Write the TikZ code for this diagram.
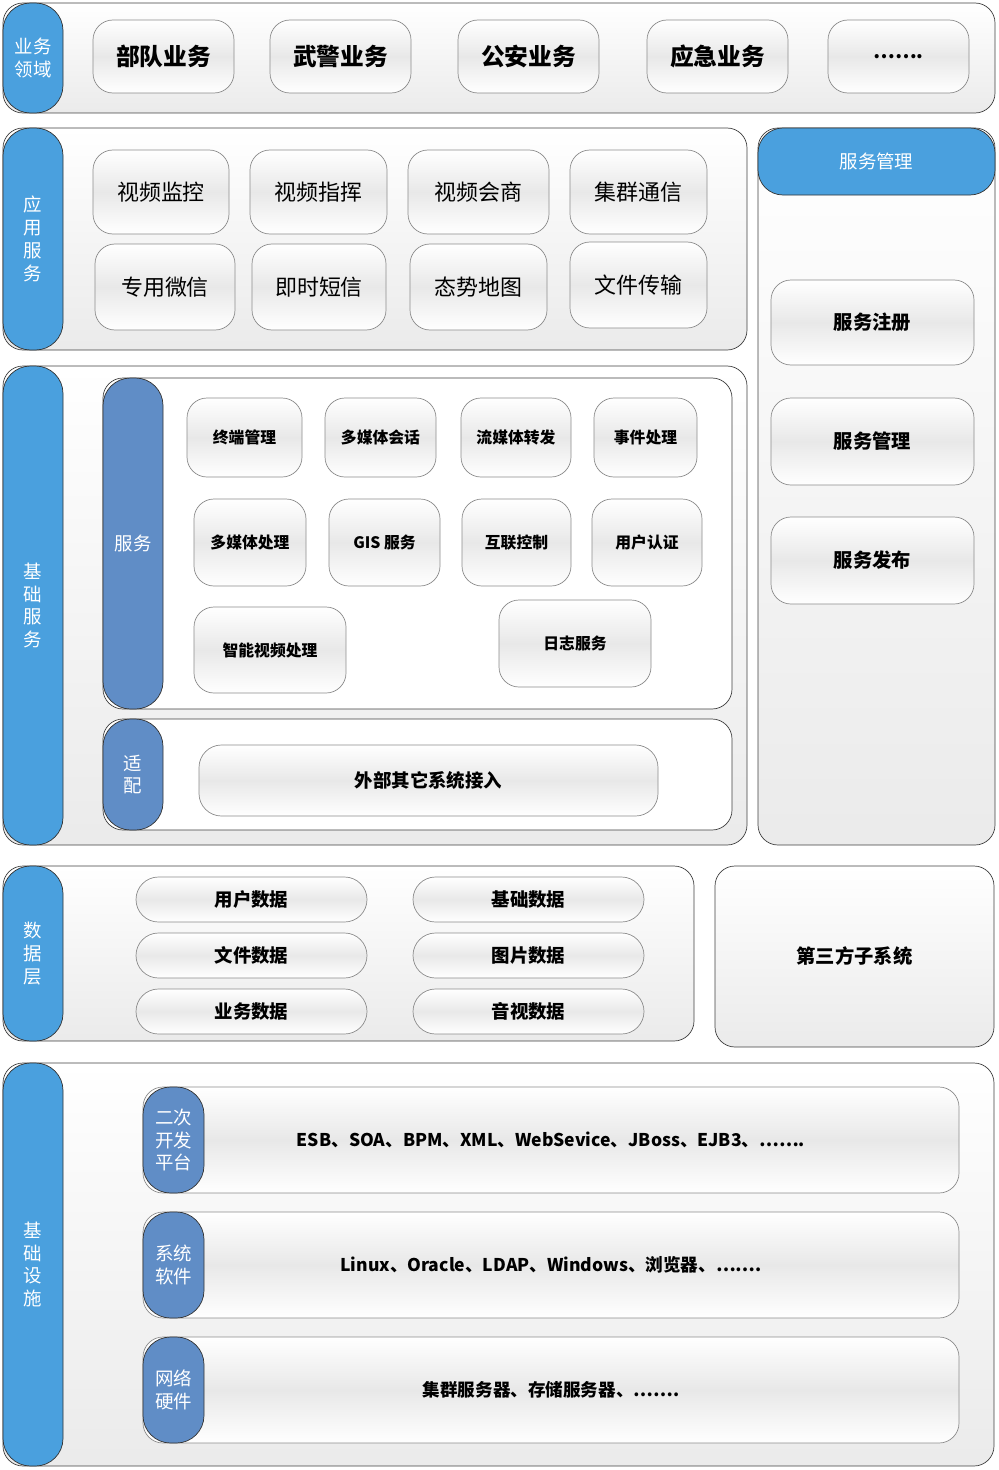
\documentclass[tikz,border=0pt]{standalone}
\usepackage{fontspec}
\setmainfont{Noto Sans CJK SC}
\usetikzlibrary{calc}
\definecolor{sideblue}{RGB}{74,160,222}
\definecolor{barblue}{RGB}{96,141,198}
\tikzset{
  panel/.style={draw=black!75, rounded corners=0.4cm, top color=white, bottom color=black!8},
  side/.style={draw=black!80, fill=sideblue, rounded corners=0.55cm, text=white, font=\fontsize{10.5}{13}\selectfont},
  bar/.style={draw=black!80, fill=barblue, rounded corners=0.55cm, text=white, font=\fontsize{10.5}{13}\selectfont},
  item/.style={draw=black!45, rounded corners=0.4cm, top color=white, bottom color=white, middle color=black!9},
  pill/.style={draw=black!45, rounded corners=0.45cm, top color=white, bottom color=white, middle color=black!9}
}
% node from pixel corners
\newcommand\boxnode[7][]{\node[inner sep=0pt, align=center, #1, minimum width={(#5-#3)*0.02cm}, minimum height={(#6-#4)*0.02cm}] (#2) at ({(#3+#5)/2},{(#4+#6)/2}) {#7};}

\begin{document}
\begin{tikzpicture}[x=0.02cm, y=-0.02cm]
\useasboundingbox (0,0) rectangle (998,1470);

% 业务领域
\boxnode[panel]{bizP}{3}{3}{995}{113}{}
\boxnode[side]{bizS}{3}{3}{63}{113}{业务\\领域}
\begin{scope}[every node/.append style={font=\fontsize{13.5}{16}\selectfont\bfseries}]
\boxnode[item]{budui}{93}{20}{234}{93}{部队业务}
\boxnode[item]{wujing}{270}{20}{411}{93}{武警业务}
\boxnode[item]{gongan}{458}{20}{599}{93}{公安业务}
\boxnode[item]{yingji}{647}{20}{788}{93}{应急业务}
\boxnode[item, font=\fontsize{11}{13}\selectfont\bfseries]{bizMore}{828}{20}{969}{93}{…….}
\end{scope}

% 应用服务
\boxnode[panel]{appP}{3}{128}{747}{350}{}
\boxnode[side]{appS}{3}{128}{63}{350}{应\\用\\服\\务}
\begin{scope}[every node/.append style={font=\fontsize{12.5}{15}\selectfont}]
\boxnode[item]{jiankong}{93}{150}{229}{234}{视频监控}
\boxnode[item]{zhihui}{250}{150}{387}{234}{视频指挥}
\boxnode[item]{huishang}{408}{150}{549}{234}{视频会商}
\boxnode[item]{jiqun}{570}{150}{707}{234}{集群通信}
\boxnode[item]{weixin}{95}{244}{235}{330}{专用微信}
\boxnode[item]{duanxin}{252}{244}{386}{330}{即时短信}
\boxnode[item]{ditu}{410}{244}{547}{330}{态势地图}
\boxnode[item]{chuanshu}{570}{242}{707}{328}{文件传输}
\end{scope}

% 服务管理
\boxnode[panel]{mgrP}{758}{128}{995}{845}{}
\boxnode[side, rounded corners=0.5cm]{mgrH}{758}{128}{995}{195}{服务管理}
\begin{scope}[every node/.append style={font=\fontsize{11}{13}\selectfont\bfseries}]
\boxnode[item]{zhuce}{771}{280}{974}{365}{服务注册}
\boxnode[item]{guanli}{771}{398}{974}{485}{服务管理}
\boxnode[item]{fabu}{771}{517}{974}{604}{服务发布}
\end{scope}

% 基础服务
\boxnode[panel]{baseP}{3}{366}{747}{845}{}
\boxnode[side]{baseS}{3}{366}{63}{845}{基\\础\\服\\务}
\boxnode[panel, top color=white, bottom color=white]{svcP}{103}{378}{732}{709}{}
\boxnode[bar]{svcB}{103}{378}{163}{709}{服务}
\begin{scope}[every node/.append style={font=\fontsize{9}{11}\selectfont\bfseries}]
\boxnode[item]{zhongduan}{187}{398}{302}{477}{终端管理}
\boxnode[item]{huihua}{325}{398}{436}{477}{多媒体会话}
\boxnode[item]{zhuanfa}{461}{398}{571}{477}{流媒体转发}
\boxnode[item]{shijian}{594}{398}{697}{477}{事件处理}
\boxnode[item]{chuli}{194}{499}{306}{586}{多媒体处理}
\boxnode[item]{gis}{329}{499}{440}{586}{GIS\ 服务}
\boxnode[item]{hulian}{462}{499}{571}{586}{互联控制}
\boxnode[item]{renzheng}{592}{499}{702}{586}{用户认证}
\boxnode[item]{zhineng}{194}{607}{346}{693}{智能视频处理}
\boxnode[item]{rizhi}{499}{600}{651}{687}{日志服务}
\end{scope}
\boxnode[panel, top color=white, bottom color=white]{adpP}{103}{719}{732}{830}{}
\boxnode[bar]{adpB}{103}{719}{163}{830}{适\\配}
\boxnode[pill, font=\fontsize{10.5}{13}\selectfont\bfseries]{waibu}{199}{745}{658}{816}{外部其它系统接入}

% 数据层
\boxnode[panel]{dataP}{3}{866}{694}{1041}{}
\boxnode[side]{dataS}{3}{866}{63}{1041}{数\\据\\层}
\begin{scope}[every node/.append style={font=\fontsize{10.5}{13}\selectfont\bfseries}]
\boxnode[pill]{yonghu}{136}{877}{367}{922}{用户数据}
\boxnode[pill]{jichu}{413}{877}{644}{922}{基础数据}
\boxnode[pill]{wenjian}{136}{933}{367}{978}{文件数据}
\boxnode[pill]{tupian}{413}{933}{644}{978}{图片数据}
\boxnode[pill]{yewu}{136}{989}{367}{1034}{业务数据}
\boxnode[pill]{yinshi}{413}{989}{644}{1034}{音视数据}
\end{scope}
\boxnode[panel, font=\fontsize{11}{13}\selectfont\bfseries]{third}{715}{866}{994}{1047}{第三方子系统}

% 基础设施
\boxnode[panel]{infraP}{3}{1063}{994}{1466}{}
\boxnode[side]{infraS}{3}{1063}{63}{1466}{基\\础\\设\\施}
\begin{scope}[every node/.append style={font=\fontsize{10}{12}\selectfont\bfseries}]
\boxnode[item]{kaifa}{143}{1087}{959}{1193}{ESB、SOA、BPM、XML、WebSevice、JBoss、EJB3、…….}
\boxnode[item]{ruanjian}{143}{1212}{959}{1318}{Linux、Oracle、LDAP、Windows、浏览器、…….}
\boxnode[item]{yingjian}{143}{1337}{959}{1443}{集群服务器、存储服务器、…….}
\end{scope}
\boxnode[bar]{kaifaB}{143}{1087}{204}{1193}{二次\\开发\\平台}
\boxnode[bar]{ruanjianB}{143}{1212}{204}{1318}{系统\\软件}
\boxnode[bar]{yingjianB}{143}{1337}{204}{1443}{网络\\硬件}
\end{tikzpicture}
\end{document}
